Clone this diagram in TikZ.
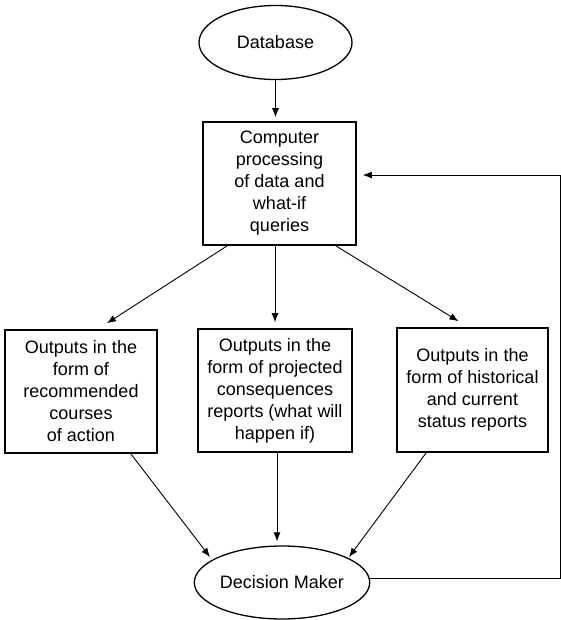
\documentclass[tikz,border=0pt]{standalone}
\usepackage{fontspec}
\setmainfont{Liberation Sans}
\usetikzlibrary{shapes.geometric,arrows.meta}

\begin{document}
\begin{tikzpicture}[x=1pt,y=-1pt,
	every node/.style={font=\fontsize{18}{22}\selectfont,align=center},
	blob/.style={draw,ellipse,line width=1.3pt,minimum width=153pt,minimum height=74pt,inner sep=0pt},
	box/.style={draw,rectangle,line width=1.6pt,minimum width=152pt,minimum height=123pt,inner sep=0pt},
	link/.style={line width=0.9pt,-{Latex[length=9pt,width=7pt]}}]
\useasboundingbox (0,0) rectangle (561,620);
\def\gap{6};  % space between arrow tip and box
% the nodes
\node[blob] (db) at (275.5,42.5) {Database};
\node[box,minimum width=153pt] (proc) at (279.5,183.5) {Computer\\processing\\of data and\\what-if\\queries};
\node[box] (act) at (81,391.5) {Outputs in the\\form of\\recommended\\courses\\of action};
\node[box,minimum width=154pt] (cons) at (275,390.5) {Outputs in the\\form of projected\\consequences\\reports (what will\\happen if)};
\node[box,minimum width=151pt,minimum height=124pt] (stat) at (472.5,390) {Outputs in the\\form of historical\\and current\\status reports};
\node[blob,minimum width=154pt,minimum height=73pt] (dm) at (282,582.5) {Decision Maker};
% the connectors
\draw[link] (db.south) -- ([yshift=4pt]db.south |- proc.north);
\draw[link] ([xshift=25pt]proc.south west) -- ([xshift=26pt,yshift=\gap pt]act.north);
\draw[link] (proc.south -| cons.north) -- ([yshift=\gap pt]cons.north);
\draw[link] ([xshift=-21pt]proc.south east) -- ([xshift=-14pt,yshift=\gap pt]stat.north);
\draw[link] ([xshift=-27pt]act.south east) -- ([shift={(-72,-25.5)}]dm.center);
\draw[link] ([xshift=2pt]cons.south) -- ([xshift=2pt,yshift=4pt]cons.south |- dm.north);
\draw[link] ([xshift=30pt]stat.south west) -- ([shift={(67,-25.5)}]dm.center);
% feedback loop
\coordinate (turn) at (560,578);
\coordinate (back) at ([shift={(\gap,-8.5)}]proc.east);
\draw[link] (dm.east |- turn) -- (turn) |- (back);
\end{tikzpicture}
\end{document}
